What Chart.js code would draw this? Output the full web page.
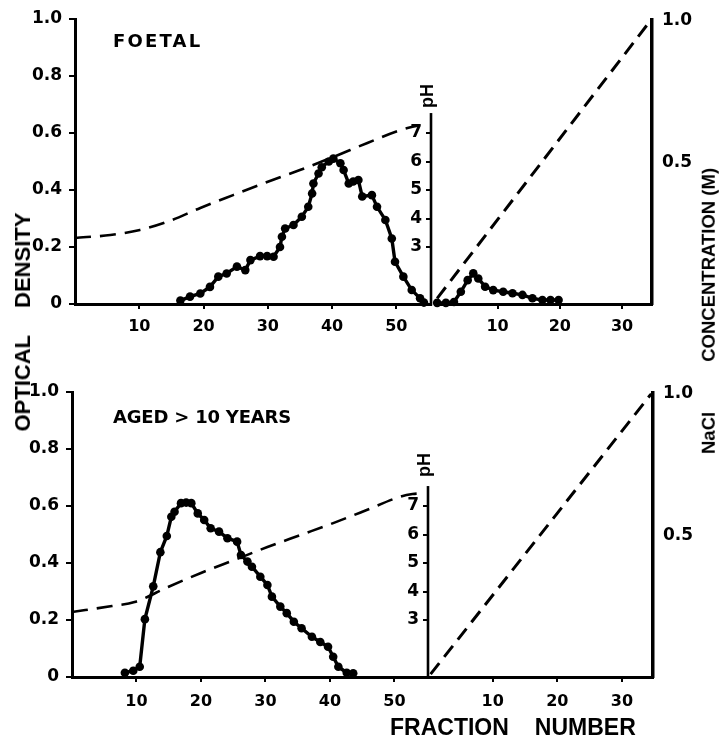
<!DOCTYPE html>
<html>
<head>
<meta charset="utf-8">
<script src="https://cdn.jsdelivr.net/npm/chart.js@4.4.1/dist/chart.umd.min.js"></script>
<style>
  html, body { margin: 0; padding: 0; background: #fff; }
  #fig { position: relative; width: 722px; height: 739px; overflow: hidden; background: #fff; }
  #fig canvas { position: absolute; }
  .t { position: absolute; color: #000; font-weight: bold; white-space: pre; line-height: 1; }
  .sans { font-family: 'Liberation Sans', Arial, sans-serif; }
  .wide { font-family: 'DejaVu Sans', sans-serif; }
  .rot { transform: translate(-50%, -50%) rotate(-90deg); transform-origin: center center; }
  .gap { display: inline-block; }
</style>
</head>
<body>
<div id="fig">
  <canvas id="foetalA" width="440" height="345" style="left:0;top:0"></canvas>
  <canvas id="foetalB" width="291" height="345" style="left:431px;top:0"></canvas>
  <canvas id="agedA" width="440" height="366" style="left:0;top:373px"></canvas>
  <canvas id="agedB" width="294" height="366" style="left:428px;top:373px"></canvas>

  <div class="t wide" style="left:113px;top:32px;font-size:18px;letter-spacing:2.2px">FOETAL</div>
  <div class="t wide" style="left:113px;top:408px;font-size:18px;letter-spacing:-0.2px">AGED &gt; 10 YEARS</div>
  <div class="t sans rot" style="left:23px;top:322px;font-size:22px">OPTICAL<span class="gap" style="width:27px"></span>DENSITY</div>
  <div class="t sans rot" style="left:709px;top:311px;font-size:18.5px">NaCl<span class="gap" style="width:50px"></span>CONCENTRATION (M)</div>
  <div class="t sans rot" style="left:427px;top:96px;font-size:18px">pH</div>
  <div class="t sans rot" style="left:424px;top:465px;font-size:18px">pH</div>
  <div class="t sans" style="left:390px;top:716px;font-size:23px">FRACTION<span class="gap" style="width:26px"></span>NUMBER</div>
</div>

<script>
// ---- axis ticks ----
const OD_TICKS = [0, 0.2, 0.4, 0.6, 0.8, 1.0];
const OD_TICK_LABELS = ['0', '0.2', '0.4', '0.6', '0.8', '1.0'];
const PH_TICKS = [3, 4, 5, 6, 7];
const NACL_TICKS = [0.5, 1.0];
const NACL_TICK_LABELS = ['0.5', '1.0'];
const FRACTION_TICKS_A = [10, 20, 30, 40, 50];
const FRACTION_TICKS_B = [10, 20, 30];

// ---- foetal: first elution (pH gradient) ----
const foetalFractionsA = [16.4, 17.9, 19.5, 21.0, 22.3, 23.6, 25.2, 26.5, 27.3, 28.8, 29.9, 30.9, 31.9, 32.2, 32.7, 34.0, 35.3, 36.3, 36.9, 37.1, 37.9, 38.4, 39.5, 40.2, 41.3, 41.8, 42.6, 43.3, 44.1, 44.7, 46.2, 47.0, 48.3, 49.3, 49.8, 51.1, 52.4, 53.7, 54.3];
const foetalOD_A = [0.012, 0.026, 0.037, 0.06, 0.096, 0.107, 0.131, 0.119, 0.154, 0.168, 0.168, 0.166, 0.20, 0.236, 0.265, 0.277, 0.306, 0.341, 0.388, 0.423, 0.458, 0.48, 0.50, 0.51, 0.494, 0.47, 0.423, 0.43, 0.435, 0.377, 0.382, 0.341, 0.295, 0.23, 0.148, 0.096, 0.049, 0.02, 0.005];
const foetalPhFractions = [0, 5.5, 10.1, 14.3, 19.5, 24.6, 29.9, 35.0, 40.2, 45.5, 50.6, 53.5];
const foetalPh = [3.32, 3.42, 3.6, 3.88, 4.37, 4.82, 5.28, 5.7, 6.16, 6.65, 7.1, 7.27];

// ---- foetal: second elution (NaCl gradient) ----
const foetalFractionsB = [0.3, 1.7, 3.0, 4.1, 5.2, 6.1, 6.9, 8.0, 9.3, 10.9, 12.4, 14.0, 15.6, 17.2, 18.5, 19.8];
const foetalOD_B = [0.004, 0.004, 0.007, 0.043, 0.084, 0.108, 0.09, 0.061, 0.049, 0.043, 0.038, 0.032, 0.02, 0.014, 0.014, 0.014];
const foetalNaclFractions = [0.3, 34.6];
const foetalNacl = [0.02, 1.0];

// ---- aged > 10 years: first elution (pH gradient) ----
const agedFractionsA = [8.2, 9.5, 10.5, 11.3, 12.6, 13.7, 14.7, 15.4, 15.9, 16.9, 17.7, 18.5, 19.5, 20.5, 21.5, 22.8, 24.1, 25.6, 26.2, 27.2, 27.9, 29.2, 30.3, 31.0, 32.3, 33.3, 34.4, 35.6, 37.2, 38.5, 39.7, 40.5, 41.3, 42.6, 43.6];
const agedOD_A = [0.015, 0.022, 0.036, 0.203, 0.318, 0.438, 0.495, 0.562, 0.58, 0.61, 0.612, 0.61, 0.574, 0.551, 0.522, 0.51, 0.487, 0.475, 0.428, 0.405, 0.387, 0.352, 0.323, 0.282, 0.247, 0.224, 0.194, 0.171, 0.141, 0.123, 0.106, 0.071, 0.036, 0.015, 0.013];
const agedPhFractions = [0, 6.2, 9.7, 14.9, 20.0, 25.1, 30.3, 35.4, 40.5, 45.7, 50.8, 52.8, 54.6];
const agedPh = [3.28, 3.49, 3.63, 4.16, 4.65, 5.1, 5.56, 5.98, 6.4, 6.86, 7.32, 7.42, 7.45];

// ---- aged > 10 years: second elution (NaCl gradient) ----
const agedNaclFractions = [0.4, 34.6];
const agedNacl = [0.01, 1.0];

// ---- shared styling ----
const PH_MIN = 1, PH_MAX = 11, PH_AXIS_TOP = 7.7;
const INK = '#000';
const FONT_Y = { family: "'DejaVu Sans', sans-serif", weight: 'bold', size: 17 };
const FONT_X = { family: "'DejaVu Sans', sans-serif", weight: 'bold', size: 16 };

const pts = (xs, ys) => xs.map((x, i) => ({ x, y: ys[i] }));
const fixedTicks = values => scale => { scale.ticks = values.map(v => ({ value: v })); };
const labelFrom = (values, labels) => v => {
  const i = values.findIndex(t => Math.abs(t - v) < 1e-9);
  return i >= 0 ? labels[i] : '';
};

// pH axis line: drawn on the pH scale from its minimum up to the top of the gradient range
const phAxisLine = {
  id: 'phAxisLine',
  afterDraw(chart, args, opts) {
    const s = chart.scales.ph;
    if (!s) return;
    const ctx = chart.ctx;
    const x = chart.chartArea.right;
    ctx.save();
    ctx.strokeStyle = INK;
    ctx.lineWidth = 2.6;
    ctx.beginPath();
    ctx.moveTo(x, s.getPixelForValue(PH_MIN) + 1.5);
    ctx.lineTo(x, s.getPixelForValue(opts.top));
    ctx.stroke();
    ctx.restore();
  }
};

const odDataset = (xs, ys) => ({
  label: 'Optical density', data: pts(xs, ys), yAxisID: 'y',
  borderColor: INK, backgroundColor: INK, borderWidth: 3.4,
  pointRadius: 4.3, pointBackgroundColor: INK, pointBorderWidth: 0,
  tension: 0, clip: false
});

const xScale = (max, ticks, height, pad) => ({
  type: 'linear', min: 0, max,
  afterBuildTicks: fixedTicks(ticks),
  afterFit: s => { s.height = height; },
  grid: { drawOnChartArea: false, drawTicks: true, tickLength: 5, color: INK, lineWidth: 2 },
  border: { display: true, color: INK, width: 3 },
  ticks: { font: FONT_X, color: INK, padding: pad, maxRotation: 0, autoSkip: false }
});

const baseOptions = () => ({
  responsive: false, animation: false, events: [],
  layout: { padding: { top: 19, left: 0, right: 0, bottom: 0 } },
  plugins: { legend: { display: false }, tooltip: { enabled: false } }
});

function firstElution(id, g) {
  const options = baseOptions();
  options.plugins.phAxisLine = { top: PH_AXIS_TOP };
  options.scales = {
    x: xScale(g.xMax, FRACTION_TICKS_A, g.xHeight, g.xPad),
    y: {
      type: 'linear', position: 'left', min: 0, max: 1,
      afterBuildTicks: fixedTicks(OD_TICKS),
      afterFit: s => { s.width = g.yWidth; },
      grid: { drawOnChartArea: false, tickLength: 6, color: INK, lineWidth: 2 },
      border: { display: true, color: INK, width: 3 },
      ticks: { font: FONT_Y, color: INK, padding: 7, callback: labelFrom(OD_TICKS, OD_TICK_LABELS) }
    },
    ph: {
      type: 'linear', position: 'right', min: PH_MIN, max: PH_MAX,
      afterBuildTicks: fixedTicks(PH_TICKS),
      afterFit: s => { s.width = g.phWidth; },
      grid: { drawOnChartArea: false, tickLength: -5, color: INK, lineWidth: 2 },
      border: { display: false },
      ticks: { mirror: true, padding: -9, font: FONT_Y, color: INK }
    }
  };
  return new Chart(document.getElementById(id), {
    type: 'line',
    data: {
      datasets: [
        odDataset(g.odX, g.odY),
        {
          label: 'pH', data: pts(g.phX, g.phY), yAxisID: 'ph',
          borderColor: INK, borderWidth: 2.6, borderDash: [16, 9],
          pointRadius: 0, cubicInterpolationMode: 'monotone'
        }
      ]
    },
    options,
    plugins: [phAxisLine]
  });
}

function secondElution(id, g) {
  const options = baseOptions();
  options.scales = {
    x: xScale(g.xMax, FRACTION_TICKS_B, g.xHeight, g.xPad),
    y: { type: 'linear', display: false, min: 0, max: 1 },
    nacl: {
      type: 'linear', position: 'right', min: 0, max: 1,
      afterBuildTicks: fixedTicks(NACL_TICKS),
      afterFit: s => { s.width = g.naclWidth; },
      grid: { drawOnChartArea: false, drawTicks: false },
      border: { display: true, color: INK, width: 3.5 },
      ticks: { font: FONT_Y, color: INK, padding: 10, callback: labelFrom(NACL_TICKS, NACL_TICK_LABELS) }
    }
  };
  const datasets = [];
  if (g.odX) datasets.push(odDataset(g.odX, g.odY));
  datasets.push({
    label: 'NaCl', data: pts(g.naclX, g.naclY), yAxisID: 'nacl',
    borderColor: INK, borderWidth: 3, borderDash: [14, 8], pointRadius: 0, tension: 0
  });
  return new Chart(document.getElementById(id), { type: 'line', data: { datasets }, options });
}

firstElution('foetalA', {
  xMax: 55.4, xHeight: 41, xPad: 8, yWidth: 75, phWidth: 9,
  odX: foetalFractionsA, odY: foetalOD_A, phX: foetalPhFractions, phY: foetalPh
});
secondElution('foetalB', {
  xMax: 34.8, xHeight: 41, xPad: 8, naclWidth: 70,
  odX: foetalFractionsB, odY: foetalOD_B, naclX: foetalNaclFractions, naclY: foetalNacl
});
firstElution('agedA', {
  xMax: 55.2, xHeight: 62, xPad: 10, yWidth: 72, phWidth: 12,
  odX: agedFractionsA, odY: agedOD_A, phX: agedPhFractions, phY: agedPh
});
secondElution('agedB', {
  xMax: 34.8, xHeight: 62, xPad: 10, naclWidth: 69,
  naclX: agedNaclFractions, naclY: agedNacl
});
</script>
</body>
</html>
